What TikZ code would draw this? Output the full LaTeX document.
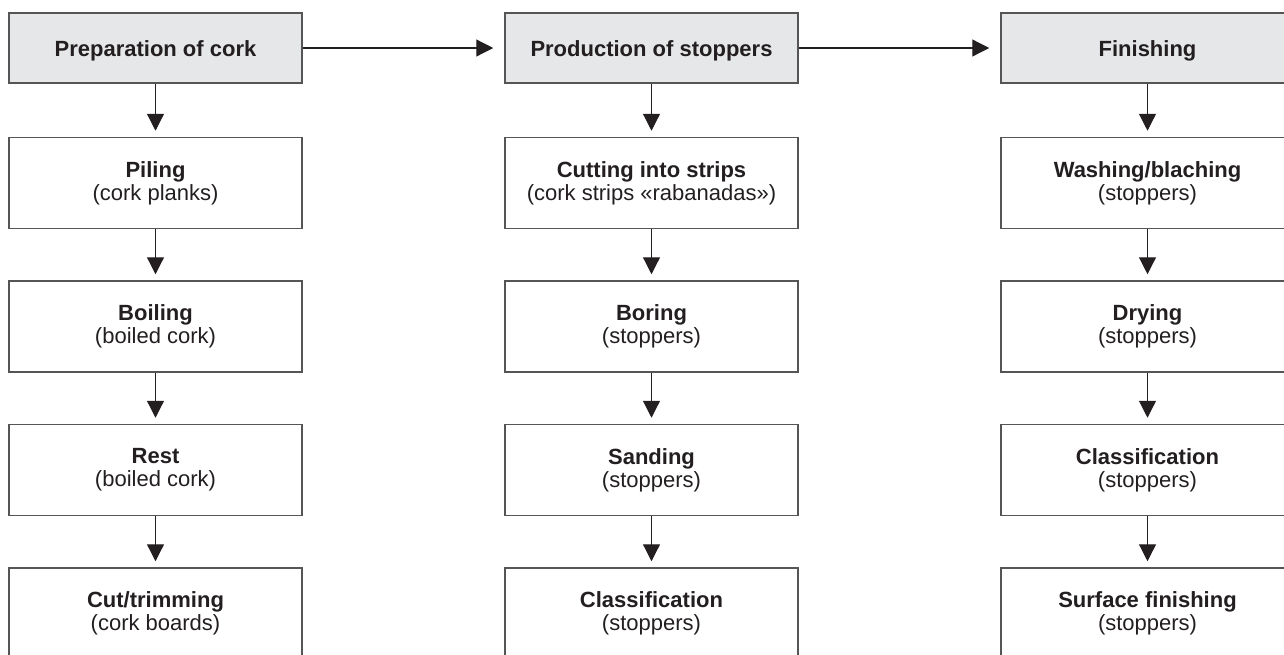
\documentclass[tikz,border=0pt]{standalone}
\usepackage{fontspec}
\setmainfont{Liberation Sans}
\usetikzlibrary{arrows.meta}

\definecolor{inkgray}{HTML}{231F20}
\definecolor{framegray}{HTML}{555555}
\definecolor{headfill}{HTML}{E6E7E8}

\begin{document}
\begin{tikzpicture}[line width=1.2pt, line join=miter, >={Triangle[length=17pt,width=17pt]}, x=1pt, y=-1pt,
    stage/.style={draw=framegray, line width=1.5pt, fill=headfill, minimum width=293pt, minimum height=70pt,
      inner sep=0pt, text height=16pt, text depth=0pt, text=inkgray, font=\fontsize{22}{23}\selectfont\bfseries},
    task/.style={draw=framegray, line width=1.5pt, fill=white, minimum width=293pt, minimum height=91pt,
      inner sep=0pt, align=center, text=inkgray, font=\fontsize{22}{23}\selectfont},
    flow/.style={draw=inkgray, ->}]
  \useasboundingbox (0,0) rectangle (1284,654);
  \clip (0,0) rectangle (1284,654);

  % headers
  \node[stage] (prep) at (155.5,48) {Preparation of cork};
  \node[stage] (prod) at (651.5,48) {Production of stoppers};
  \node[stage] (fin) at (1147.5,48) {Finishing};

  % preparation of cork
  \node[task] (pil) at (155.5,183) {\textbf{Piling}\\(cork planks)};
  \node[task] (boil) at (155.5,326.5) {\textbf{Boiling}\\(boiled cork)};
  \node[task] (rest) at (155.5,470) {\textbf{Rest}\\(boiled cork)};
  \node[task] (cut) at (155.5,613.5) {\textbf{Cut/trimming}\\(cork boards)};

  % production of stoppers
  \node[task] (strip) at (651.5,183) {\textbf{Cutting into strips}\\(cork strips «rabanadas»)};
  \node[task] (bore) at (651.5,326.5) {\textbf{Boring}\\(stoppers)};
  \node[task] (sand) at (651.5,470) {\textbf{Sanding}\\(stoppers)};
  \node[task] (sortA) at (651.5,613.5) {\textbf{Classification}\\(stoppers)};

  % finishing
  \node[task] (wash) at (1147.5,183) {\textbf{Washing/blaching}\\(stoppers)};
  \node[task] (dry) at (1147.5,326.5) {\textbf{Drying}\\(stoppers)};
  \node[task] (sortB) at (1147.5,470) {\textbf{Classification}\\(stoppers)};
  \node[task] (surf) at (1147.5,613.5) {\textbf{Surface finishing}\\(stoppers)};

  \draw[flow, shorten >=11pt] (prep) -- (prod);
  \draw[flow, shorten >=11pt] (prod) -- (fin);

  \foreach \a/\b in {prep/pil, pil/boil, boil/rest, rest/cut,
                     prod/strip, strip/bore, bore/sand, sand/sortA,
                     fin/wash, wash/dry, dry/sortB, sortB/surf}
    \draw[flow, shorten >=6pt] (\a.south) -- (\b.north);
\end{tikzpicture}
\end{document}
